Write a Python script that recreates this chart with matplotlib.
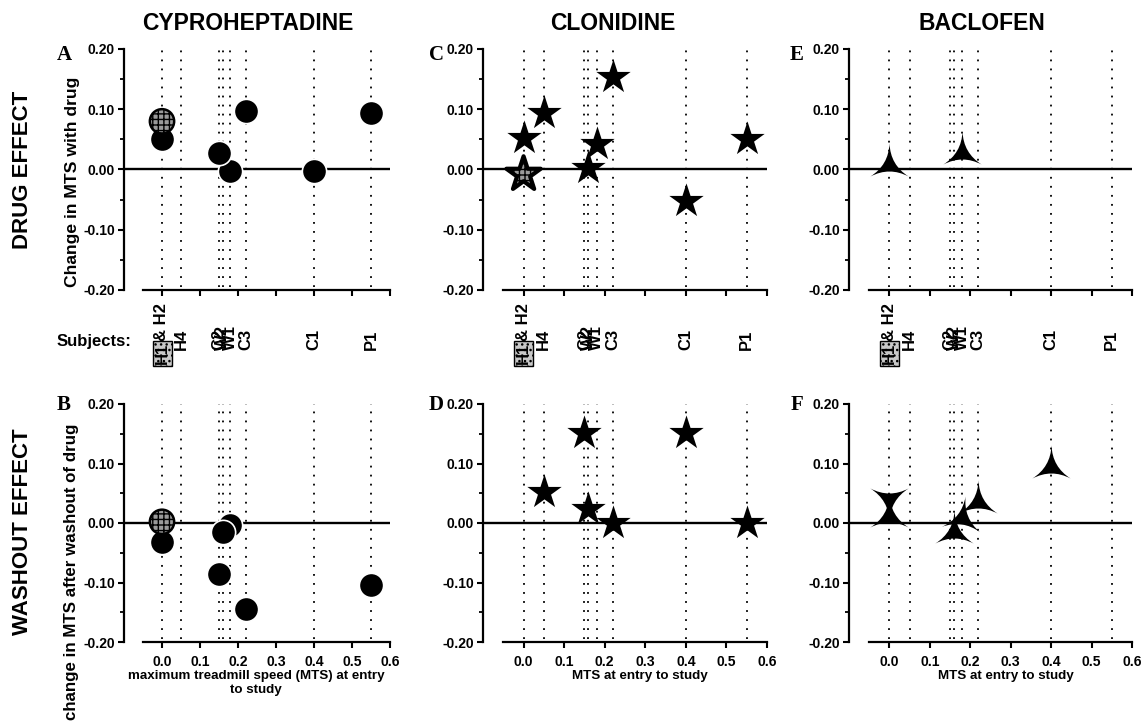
import matplotlib
matplotlib.use('Agg')
import matplotlib.pyplot as plt
import numpy as np
from matplotlib import font_manager as fm
from matplotlib.path import Path
from matplotlib.markers import MarkerStyle
from matplotlib.transforms import blended_transform_factory, Affine2D
from matplotlib.ticker import FormatStrFormatter

# ---------------- data ----------------
subjects = ['H4', 'C2', 'W2', 'W1', 'C3', 'C1', 'P1']
subject_mts = [0.05, 0.15, 0.16, 0.18, 0.22, 0.40, 0.55]
h_pair_mts = 0.0           # H1 & H2
all_lines_mts = [0.0] + subject_mts

x_ticks = [0.0, 0.1, 0.2, 0.3, 0.4, 0.5, 0.6]
y_ticks = [-0.20, -0.10, 0.00, 0.10, 0.20]
y_minor = [-0.15, -0.05, 0.05, 0.15]

drug_titles = ['CYPROHEPTADINE', 'CLONIDINE', 'BACLOFEN']

# Cyproheptadine (circles)
cyp_drug_mts = [0.0, 0.15, 0.18, 0.22, 0.40, 0.55]
cyp_drug_change = [0.05, 0.027, -0.003, 0.097, -0.002, 0.094]
cyp_drug_h1_mts = [0.0]
cyp_drug_h1_change = [0.08]

cyp_wash_mts = [0.0, 0.15, 0.16, 0.18, 0.22, 0.55]
cyp_wash_change = [-0.032, -0.085, -0.015, -0.003, -0.145, -0.105]
cyp_wash_h1_mts = [0.0]
cyp_wash_h1_change = [0.002]

# Clonidine (stars)
clo_drug_mts = [0.0, 0.05, 0.16, 0.18, 0.22, 0.40, 0.55]
clo_drug_change = [0.053, 0.093, 0.003, 0.042, 0.153, -0.053, 0.05]
clo_drug_h1_mts = [0.0]
clo_drug_h1_change = [-0.008]

clo_wash_mts = [0.05, 0.15, 0.16, 0.22, 0.40, 0.55]
clo_wash_change = [0.052, 0.152, 0.024, 0.0, 0.152, 0.0]

# Baclofen (three-pointed stars)
bac_drug_mts = [0.0, 0.18]
bac_drug_change = [0.008, 0.027]

bac_wash_mts = [0.0, 0.0, 0.16, 0.18, 0.22, 0.40]
bac_wash_change = [0.012, 0.040, -0.015, 0.008, 0.035, 0.094]
bac_wash_rot = [0, 180, 0, -8, 0, 0]   # marker orientation (style)

# ---------------- fonts ----------------
names = {f.name for f in fm.fontManager.ttflist}
if 'Liberation Sans Narrow' in names:
    NARROW = ['Liberation Sans Narrow', 'DejaVu Sans']
    NK = 1.0
else:
    NARROW = ['Liberation Sans', 'DejaVu Sans']
    NK = 0.84

plt.rcParams['font.family'] = ['Liberation Sans', 'DejaVu Sans']
plt.rcParams['font.weight'] = 'bold'
plt.rcParams['axes.unicode_minus'] = False

W, H = 1146, 722
fig = plt.figure(figsize=(W / 100, H / 100), dpi=100)


def fx(px):
    return px / W


def fy(py):
    return 1 - py / H


cols = [(124, 390), (483, 767), (849, 1132)]
rows = [(49, 290), (404, 642)]

axs = [[None] * 3 for _ in range(2)]
for r, (t, b) in enumerate(rows):
    for c, (l, rr) in enumerate(cols):
        ax = fig.add_axes([fx(l), fy(b), (rr - l) / W, (b - t) / H])
        ax.set_xlim(-0.1, 0.6)
        ax.set_ylim(-0.2, 0.2)
        for s in ['top', 'right']:
            ax.spines[s].set_visible(False)
        ax.spines['bottom'].set_bounds(-0.05, 0.6)
        ax.spines['left'].set_linewidth(1.6)
        ax.spines['bottom'].set_linewidth(1.6)
        ax.set_xticks(x_ticks)
        ax.set_yticks(y_ticks)
        ax.set_yticks(y_minor, minor=True)
        ax.yaxis.set_major_formatter(FormatStrFormatter('%.2f'))
        ax.xaxis.set_major_formatter(FormatStrFormatter('%.1f'))
        ax.tick_params(axis='both', which='major', direction='out', length=4,
                       width=1.5, pad=2.5)
        ax.tick_params(axis='y', which='minor', direction='out', length=3, width=1.3)
        ax.tick_params(axis='y', labelsize=10)
        ax.tick_params(axis='x', labelsize=12 * NK, pad=5)
        for lab in ax.get_xticklabels():
            lab.set_fontfamily(NARROW)
        if r == 0:
            ax.tick_params(axis='x', labelbottom=False)
        ax.vlines(all_lines_mts, -0.195, 0.2, colors='black',
                  linestyles=(0, (1, 4)), lw=1.3, zorder=1)
        ax.axhline(0, color='black', lw=1.7, zorder=2)
        axs[r][c] = ax

GRAY = '#9a9a9a'
CIRC = 17.5
STAR = 26
TRI = 32


def draw_circles(ax, xs, ys, hx, hy):
    xs = np.asarray(xs)
    ys = np.asarray(ys)
    order = np.argsort(-xs, kind='stable')
    ax.scatter(xs[order], ys[order], s=CIRC ** 2, c='black', edgecolors='white',
               linewidths=1.2, zorder=4, clip_on=False)
    if hx:
        ax.scatter(hx, hy, s=CIRC ** 2, facecolors=GRAY, edgecolors='black',
                   linewidths=1.8, hatch='+++', zorder=5, clip_on=False)


def draw_stars(ax, xs, ys, hx=None, hy=None):
    ax.scatter(xs, ys, s=STAR ** 2, marker='*', c='black', linewidths=0,
               zorder=4, clip_on=False)
    if hx:
        ax.scatter(hx, hy, s=STAR ** 2, marker='*', facecolors=GRAY,
                   edgecolors='black', linewidths=3, hatch='+++',
                   zorder=5, clip_on=False)


# three-pointed concave star
ang = [90, 210, 330]
tips = [(np.cos(np.radians(a)), np.sin(np.radians(a))) for a in ang]
ctrl = [(0.04 * np.cos(np.radians(a)), 0.04 * np.sin(np.radians(a)))
        for a in (150, 270, 30)]
tri_verts = [tips[0], ctrl[0], tips[1], ctrl[1], tips[2], ctrl[2], tips[0], tips[0]]
tri_codes = [Path.MOVETO, Path.CURVE3, Path.CURVE3, Path.CURVE3, Path.CURVE3,
             Path.CURVE3, Path.CURVE3, Path.CLOSEPOLY]
tri_path = Path(tri_verts, tri_codes)


def draw_tris(ax, xs, ys, rots=None):
    if rots is None:
        rots = [0] * len(xs)
    for x, y, rot in zip(xs, ys, rots):
        m = MarkerStyle(tri_path, transform=Affine2D().rotate_deg(rot))
        ax.scatter([x], [y], s=TRI ** 2, marker=m, c='black', linewidths=0,
                   zorder=4, clip_on=False)


draw_circles(axs[0][0], cyp_drug_mts, cyp_drug_change, cyp_drug_h1_mts, cyp_drug_h1_change)
draw_circles(axs[1][0], cyp_wash_mts, cyp_wash_change, cyp_wash_h1_mts, cyp_wash_h1_change)
draw_stars(axs[0][1], clo_drug_mts, clo_drug_change, clo_drug_h1_mts, clo_drug_h1_change)
draw_stars(axs[1][1], clo_wash_mts, clo_wash_change)
draw_tris(axs[0][2], bac_drug_mts, bac_drug_change)
draw_tris(axs[1][2], bac_wash_mts, bac_wash_change, bac_wash_rot)

# ---------------- texts ----------------
title_x = [248, 613, 982]
for c in range(3):
    fig.text(fx(title_x[c]), fy(24), drug_titles[c], ha='center', va='center',
             fontsize=16.5, fontweight='bold')

letters = [['A', 'C', 'E'], ['B', 'D', 'F']]
letter_x = [64, 436, 797]
letter_y = [55, 405]
for r in range(2):
    for c in range(3):
        fig.text(fx(letter_x[c]), fy(letter_y[r]), letters[r][c], ha='center',
                 va='center', fontsize=15, fontweight='bold',
                 family=['Liberation Serif', 'DejaVu Serif'])

fig.text(fx(23), fy(170), 'DRUG EFFECT', rotation=90, ha='center', va='center',
         fontsize=16, fontweight='bold')
fig.text(fx(23), fy(532), 'WASHOUT EFFECT', rotation=90, ha='center', va='center',
         fontsize=16, fontweight='bold')
fig.text(fx(72), fy(182), 'Change in MTS with drug', rotation=90, ha='center',
         va='center', fontsize=15 * NK, fontweight='bold', family=NARROW)
fig.text(fx(72), fy(572), 'change in MTS after washout of drug', rotation=90,
         ha='center', va='center', fontsize=14.5 * NK, fontweight='bold', family=NARROW)

fig.text(fx(256), fy(683), 'maximum treadmill speed (MTS) at entry\nto study',
         ha='center', va='center', fontsize=11.5 * NK, fontweight='bold',
         family=NARROW, linespacing=1.15)
fig.text(fx(640), fy(676), 'MTS at entry to study', ha='center', va='center',
         fontsize=11.5 * NK, fontweight='bold', family=NARROW)
fig.text(fx(1006), fy(676), 'MTS at entry to study', ha='center', va='center',
         fontsize=11.5 * NK, fontweight='bold', family=NARROW)

# Subjects row
fig.text(fx(131), fy(342), 'Subjects:', ha='right', va='center', fontsize=12,
         fontweight='bold')
for c in range(3):
    tr = blended_transform_factory(axs[0][c].transData, fig.transFigure)
    for name, x in zip(subjects, subject_mts):
        fig.text(x, fy(350), name, transform=tr, rotation=90, ha='center',
                 va='bottom', fontsize=12, fontweight='bold')
    fig.text(h_pair_mts, fy(341), '& H2', transform=tr, rotation=90, ha='center',
             va='bottom', fontsize=12, fontweight='bold')
    fig.text(h_pair_mts, fy(343), 'H1', transform=tr, rotation=90, ha='center',
             va='top', fontsize=12, fontweight='bold',
             bbox=dict(boxstyle='square,pad=0.12', facecolor='#c8c8c8',
                       edgecolor='black', hatch='...', lw=1.0))

fig.savefig('out.png', dpi=100)
